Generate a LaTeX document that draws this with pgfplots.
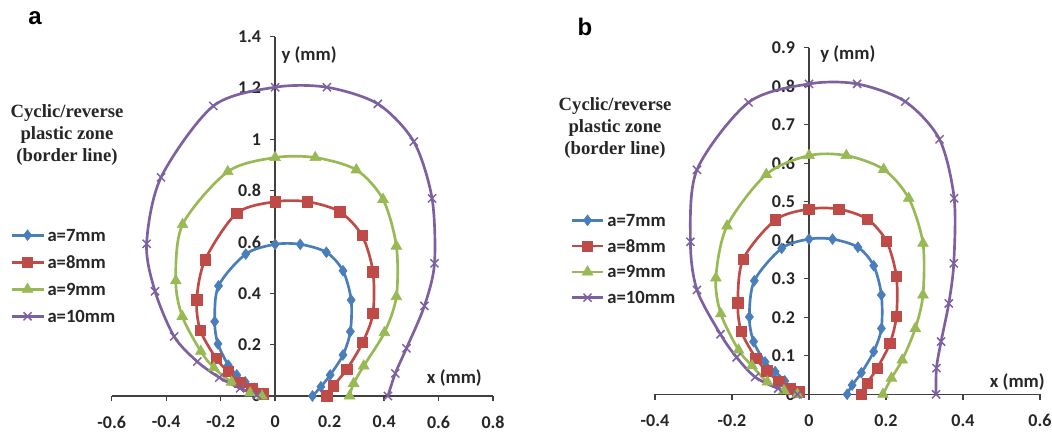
\documentclass[border=0pt]{standalone}
\usepackage{pgfplots}
\pgfplotsset{compat=1.18}
\usepackage{fontspec}
\setmainfont{Carlito}
\newfontfamily\serifbf{Liberation Serif}
\newfontfamily\arialf{Liberation Sans}
\definecolor{c1}{HTML}{4A7EBB}
\definecolor{c2}{HTML}{BE4B48}
\definecolor{c3}{HTML}{98B954}
\definecolor{c4}{HTML}{7D60A0}
\definecolor{axc}{HTML}{404040}
\pgfplotsset{
  legend image code/.code={\draw[mark repeat=2,mark phase=2,#1] plot coordinates {(0cm,0cm) (0.42cm,0cm) (0.84cm,0cm)};},
  panel/.style={
    scale only axis,
    axis lines=middle,
    axis line style={-, axc, line width=1.1pt},
    enlargelimits=false,
    clip=false,
    hide obscured x ticks=false,
    hide obscured y ticks=false,
    tick align=outside,
    major tick length=4pt,
    tick style={axc, line width=1pt},
    /pgf/number format/assume math mode=true,
    ticklabel style={font=\fontsize{13.5}{13.5}\selectfont\bfseries, text=black!85},
    xticklabel style={yshift=-7.5pt},
    yticklabel style={xshift=-3pt},
    legend cell align=left,
    legend style={draw=none, fill=none, inner sep=0pt, anchor=north west,
      font=\fontsize{14}{14}\selectfont\bfseries, text=black!85,
      nodes={inner sep=0pt, inner xsep=2pt, text height=9pt, text depth=0pt}},
  },
  s1/.style={c1, line width=2pt, smooth, tension=0.5, mark=diamond*, mark size=4pt, mark options={solid, fill=c1, draw=c1, line width=0.5pt}},
  s2/.style={c2, line width=2pt, smooth, tension=0.5, mark=square*, mark size=3.9pt, mark options={solid, fill=c2, draw=c2, line width=0.5pt}},
  s3/.style={c3, line width=2pt, smooth, tension=0.5, mark=triangle*, mark size=4.6pt, mark options={solid, fill=c3, draw=c3, line width=0.5pt}},
  s4/.style={c4, line width=2pt, smooth, tension=0.5, mark=x, mark size=4.3pt, mark options={solid, draw=c4, line width=1.1pt}},
}
\begin{document}
\begin{tikzpicture}
\useasboundingbox (0,0) rectangle (789pt,324.75pt);
% ---------------- panel a ----------------
\begin{axis}[panel,
  at={(83.8pt,27.75pt)}, anchor=south west,
  width=286pt, height=269.5pt,
  xmin=-0.6, xmax=0.8, ymin=0, ymax=1.4,
  xtick={-0.6,-0.4,-0.2,0,0.2,0.4,0.6,0.8},
  ytick={0,0.2,0.4,0.6,0.8,1,1.2,1.4},
  legend style={at={(-0.2667,0.465)}, row sep=11.25pt},
]
\addplot[s1] coordinates {(0.137,0) (0.168,0.036) (0.202,0.082) (0.249,0.160) (0.276,0.251) (0.279,0.374) (0.249,0.488) (0.188,0.560) (0.092,0.591) (0,0.591) (-0.108,0.553) (-0.208,0.429) (-0.222,0.290) (-0.210,0.203) (-0.172,0.120) (-0.141,0.082) (-0.110,0.055) (-0.076,0.030) (-0.045,0.010)};
\addlegendentry{a=7mm}
\addplot[s2] coordinates {(0.190,0) (0.214,0.040) (0.263,0.104) (0.321,0.208) (0.359,0.322) (0.359,0.484) (0.319,0.625) (0.237,0.718) (0.119,0.757) (0,0.757) (-0.141,0.712) (-0.257,0.531) (-0.288,0.375) (-0.275,0.257) (-0.217,0.147) (-0.172,0.095) (-0.129,0.054) (-0.086,0.030) (-0.043,0.008)};
\addlegendentry{a=8mm}
\addplot[s3] coordinates {(0.273,0) (0.288,0.049) (0.325,0.117) (0.401,0.247) (0.445,0.387) (0.445,0.584) (0.396,0.766) (0.298,0.881) (0.147,0.929) (0,0.929) (-0.174,0.874) (-0.340,0.668) (-0.365,0.449) (-0.341,0.310) (-0.273,0.174) (-0.225,0.110) (-0.160,0.054) (-0.092,0.012) (-0.049,0)};
\addlegendentry{a=9mm}
\addplot[s4] coordinates {(0.414,0) (0.441,0.088) (0.482,0.186) (0.548,0.351) (0.585,0.517) (0.576,0.770) (0.509,0.991) (0.377,1.138) (0.190,1.203) (0,1.203) (-0.227,1.130) (-0.419,0.852) (-0.472,0.593) (-0.441,0.408) (-0.371,0.232) (-0.286,0.134) (-0.205,0.072) (-0.129,0.030) (-0.067,0.004)};
\addlegendentry{a=10mm}
\node[font=\fontsize{14}{14}\selectfont\bfseries, text=black!85] at (axis cs:0.658,0.070) {x (mm)};
\node[font=\fontsize{14}{14}\selectfont\bfseries, text=black!85, anchor=west] at (axis cs:0.006,1.328) {y (mm)};
\end{axis}
% ---------------- panel b ----------------
\begin{axis}[panel,
  at={(491.25pt,29pt)}, anchor=south west,
  width=288.75pt, height=260pt,
  xmin=-0.4, xmax=0.6, ymin=0, ymax=0.9,
  xtick={-0.4,-0.2,0,0.2,0.4,0.6},
  ytick={0,0.1,0.2,0.3,0.4,0.5,0.6,0.7,0.8,0.9},
  legend style={at={(-0.2208,0.520)}, row sep=10.3pt},
]
\addplot[s1] coordinates {(0.099,0) (0.112,0.024) (0.136,0.056) (0.168,0.111) (0.188,0.171) (0.188,0.258) (0.168,0.334) (0.127,0.382) (0.061,0.403) (0,0.403) (-0.071,0.379) (-0.142,0.295) (-0.155,0.201) (-0.144,0.137) (-0.114,0.084) (-0.088,0.059) (-0.063,0.035) (-0.042,0.012) (-0.025,0.003)};
\addlegendentry{a=7mm}
\addplot[s2] coordinates {(0.136,0) (0.151,0.029) (0.177,0.068) (0.210,0.132) (0.227,0.203) (0.227,0.306) (0.201,0.398) (0.151,0.455) (0.077,0.481) (0,0.481) (-0.087,0.453) (-0.171,0.351) (-0.185,0.238) (-0.176,0.164) (-0.138,0.094) (-0.110,0.061) (-0.078,0.033) (-0.048,0.014) (-0.026,0.006)};
\addlegendentry{a=8mm}
\addplot[s3] coordinates {(0.192,0) (0.214,0.042) (0.242,0.089) (0.276,0.171) (0.296,0.258) (0.296,0.392) (0.259,0.509) (0.194,0.584) (0.097,0.620) (0,0.620) (-0.111,0.571) (-0.213,0.437) (-0.242,0.302) (-0.229,0.209) (-0.183,0.115) (-0.148,0.074) (-0.108,0.032) (-0.065,0.010) (-0.030,0)};
\addlegendentry{a=9mm}
\addplot[s4] coordinates {(0.330,0) (0.331,0.068) (0.343,0.137) (0.363,0.236) (0.376,0.340) (0.377,0.509) (0.339,0.662) (0.250,0.760) (0.125,0.806) (0,0.806) (-0.157,0.758) (-0.291,0.583) (-0.308,0.396) (-0.291,0.271) (-0.230,0.156) (-0.188,0.096) (-0.140,0.045) (-0.080,0.015) (-0.030,0)};
\addlegendentry{a=10mm}
\node[font=\fontsize{14}{14}\selectfont\bfseries, text=black!85] at (axis cs:0.541,0.0327) {x (mm)};
\node[font=\fontsize{14}{14}\selectfont\bfseries, text=black!85, anchor=west] at (axis cs:0.017,0.884) {y (mm)};
\end{axis}
% ---------------- panel letters and notes ----------------
\node[font=\arialf\bfseries\fontsize{18}{18}\selectfont] at (26.25pt,311.25pt) {a};
\node[font=\arialf\bfseries\fontsize{18}{18}\selectfont] at (438.75pt,304.5pt) {b};
\node[font=\serifbf\bfseries\fontsize{14}{16.5}\selectfont, align=center, text=black!85] at (50.25pt,223.5pt) {Cyclic/reverse\\plastic zone\\(border line)};
\node[font=\serifbf\bfseries\fontsize{14}{16.5}\selectfont, align=center, text=black!85] at (461.25pt,228.75pt) {Cyclic/reverse\\plastic zone\\(border line)};
\end{tikzpicture}
\end{document}
